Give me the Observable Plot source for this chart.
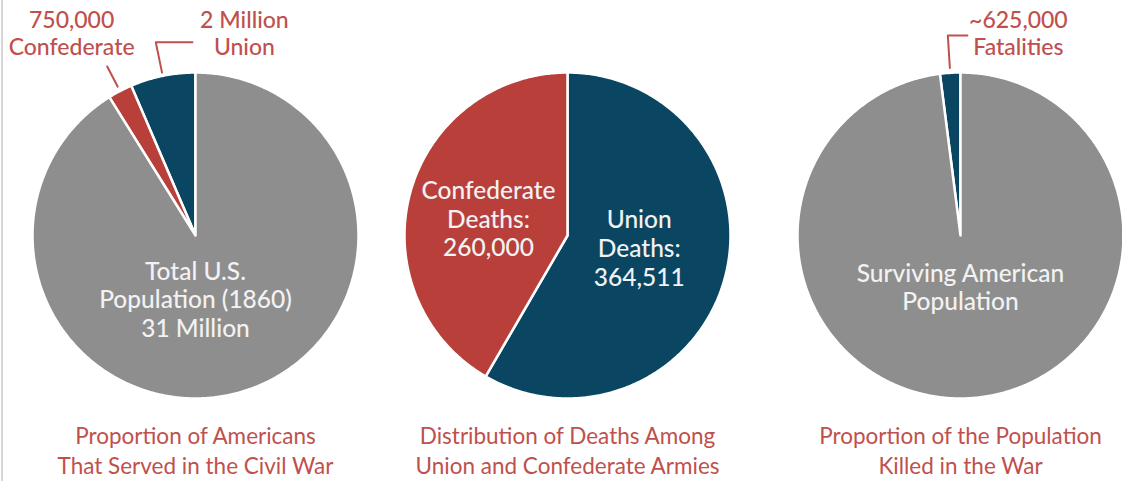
<!DOCTYPE html>
<html><head><meta charset="utf-8">
<script src="https://cdn.jsdelivr.net/npm/d3@7"></script>
<script src="https://cdn.jsdelivr.net/npm/@observablehq/plot@0.6"></script>
<style>
body{margin:0;background:#fff;}
#wrap{position:relative;width:1122px;height:481px;overflow:hidden;background:#fff;}
#wrap svg{position:absolute;top:0;}
#border{position:absolute;left:1px;top:0;width:2px;height:481px;background:#d6d6d6;}
</style></head><body><div id="wrap"><div id="border"></div></div>
<script>
// ---- data ----
const servedKeys = ["Union", "Confederate", "Rest"];
const servedValues = [2000000, 750000, 28250000];
const servedColors = ["#0a4662", "#b9403a", "#8e8e8e"];

const deathKeys = ["Union", "Confederate"];
const deathValues = [364511, 260000];
const deathColors = ["#0a4662", "#b9403a"];

const killedKeys = ["Fatalities", "Surviving"];
const killedValues = [625000, 30375000];
const killedColors = ["#0a4662", "#8e8e8e"];

const titles = [
  "Proportion of Americans\nThat Served in the Civil War",
  "Distribution of Deaths Among\nUnion and Confederate Armies",
  "Proportion of the Population\nKilled in the War"
];

// ---- styles ----
const LABEL_RED = "#c0504d";
const INNER = "#f2f2f2";
const BODY_FONT = "Lato, 'Noto Sans', sans-serif";
const TITLE_FONT = "Lato, sans-serif";

const H = 481, R = 163, CY = 235;

const pies = [
  {left: 0, width: 380, cx: 195, dir: -1, keys: servedKeys, values: servedValues, colors: servedColors, title: titles[0],
   inner: [{text: "Total U.S.\nPopulation (1860)\n31 Million", x: 0, y: -0.39}],
   outer: [{text: "750,000\nConfederate", x: -0.76, y: 1.245}, {text: "2 Million\nUnion", x: 0.30, y: 1.245}],
   leaders: [{slice: 1, r1: 1.03, r2: 1.17, elbow: 0}, {slice: 0, r1: 1.02, r2: 1.21, elbow: 0.225}]},
  {left: 380, width: 380, cx: 187, dir: 1, keys: deathKeys, values: deathValues, colors: deathColors, title: titles[1],
   inner: [{text: "Confederate\nDeaths:\n260,000", x: -0.485, y: 0.105}, {text: "Union\nDeaths:\n364,511", x: 0.44, y: -0.075}],
   outer: [], leaders: []},
  {left: 760, width: 362, cx: 200, dir: -1, keys: killedKeys, values: killedValues, colors: killedColors, title: titles[2],
   inner: [{text: "Surviving American\nPopulation", x: 0, y: -0.315}],
   outer: [{text: "~625,000\nFatalities", x: 0.355, y: 1.245}],
   leaders: [{slice: 0, r1: 1.03, r2: 1.23, elbow: 0.12}]}
];

const wrap = document.getElementById("wrap");

for (const p of pies) {
  const arcs = d3.pie().sort(null).startAngle(0).endAngle(p.dir * 2 * Math.PI)(p.values);
  const pts = [];
  arcs.forEach((a, i) => {
    const key = p.keys[i], color = p.colors[i];
    pts.push({key, color, x: 0, y: 0});
    const n = Math.max(2, Math.ceil(Math.abs(a.endAngle - a.startAngle) / 0.01));
    for (let k = 0; k <= n; k++) {
      const t = a.startAngle + (a.endAngle - a.startAngle) * k / n;
      pts.push({key, color, x: Math.sin(t), y: Math.cos(t)});
    }
  });
  const leaderPts = [];
  p.leaders.forEach((l, j) => {
    const a = arcs[l.slice];
    const m = (a.startAngle + a.endAngle) / 2;
    leaderPts.push({id: j, x: l.r1 * Math.sin(m), y: l.r1 * Math.cos(m)});
    leaderPts.push({id: j, x: l.r2 * Math.sin(m), y: l.r2 * Math.cos(m)});
    if (l.elbow) leaderPts.push({id: j, x: l.r2 * Math.sin(m) + l.elbow, y: l.r2 * Math.cos(m)});
  });
  const chart = Plot.plot({
    width: p.width, height: H, margin: 0,
    x: {domain: [-p.cx / R, (p.width - p.cx) / R], axis: null},
    y: {domain: [-(H - CY) / R, CY / R], axis: null},
    color: {type: "identity"},
    marks: [
      Plot.line(pts, {x: "x", y: "y", z: "key", fill: "color", stroke: "white", strokeWidth: 2.5, curve: "linear-closed", strokeLinejoin: "round"}),
      Plot.line(leaderPts, {x: "x", y: "y", z: "id", stroke: LABEL_RED, strokeWidth: 2}),
      Plot.text(p.inner, {x: "x", y: "y", text: "text", fill: INNER, fontSize: 24.5, fontFamily: BODY_FONT, fontWeight: 500, lineHeight: 1.17, textAnchor: "middle"}),
      Plot.text(p.outer, {x: "x", y: "y", text: "text", fill: LABEL_RED, fontSize: 23, fontFamily: BODY_FONT, fontWeight: 500, lineHeight: 1.18, textAnchor: "middle"}),
      Plot.text([p.title], {x: 0, y: -1.315, text: d => d, fill: LABEL_RED, fontSize: 22.5, fontFamily: TITLE_FONT, lineHeight: 1.33, textAnchor: "middle"})
    ]
  });
  chart.style.left = p.left + "px";
  wrap.appendChild(chart);
}
</script>
</body></html>
